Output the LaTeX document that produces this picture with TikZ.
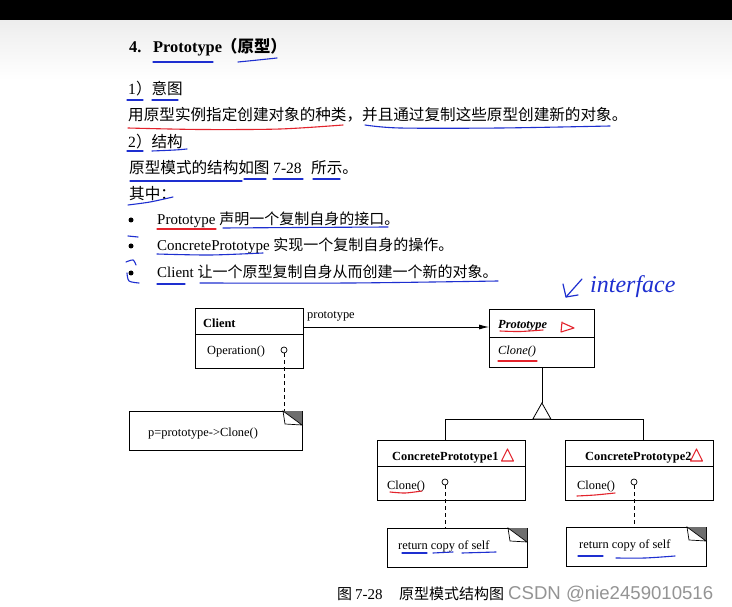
\documentclass[tikz,border=0pt]{standalone}
\usepackage{fontspec}
\setmainfont{Liberation Serif}
\setsansfont{Liberation Sans}
\newfontfamily\cjk{Noto Sans CJK SC}
\usetikzlibrary{arrows.meta,calc}
\definecolor{pen}{HTML}{1E2FD0}
\definecolor{redpen}{HTML}{E3232C}
\definecolor{folddark}{HTML}{6E6E6E}
\newcommand\zh[1]{{\cjk #1}}
\newcommand\fold[3]{% x2, y1 (top right corner)
  \fill[folddark] (#1-19,#2) -- (#1,#2) -- (#1,#2+14) -- cycle;
  \filldraw[fill=white, line width=0.7pt] (#1-19,#2) -- (#1-17,#2+13) -- (#1,#2+14) -- cycle;}
\begin{document}
\begin{tikzpicture}[x=1pt,y=-1pt,
  txt/.style={inner sep=0pt, anchor=base west, font=\fontsize{15.6}{17}\selectfont},
  btxt/.style={inner sep=0pt, anchor=base west, font=\fontsize{15}{17}\selectfont},
  dtxt/.style={inner sep=0pt, anchor=base west, font=\fontsize{12.4}{14}\selectfont},
  umlbox/.style={draw, line width=0.8pt, inner sep=0pt, anchor=north west},
  blueul/.style={pen, line width=1.1pt, line cap=round},
  redul/.style={redpen, line width=1.1pt, line cap=round, line join=round},
  dashline/.style={dash pattern=on 4pt off 3pt, line width=0.7pt},
  lolli/.style={draw, circle, inner sep=0pt, minimum size=6pt, line width=0.7pt, fill=white},
  bul/.style={circle, fill=black, inner sep=0pt, minimum size=5pt},
]
\useasboundingbox (0,0) rectangle (732,607);
\fill[white] (0,0) rectangle (732,607);
\shade[top color=black!7, bottom color=white] (0,20) rectangle (732,80);
\fill[black] (0,0) rectangle (732,20);

% ---------- text ----------
\node[txt, font=\fontsize{16.4}{18}\selectfont\bfseries] (t4) at (129,53) {4.};
\node[txt, font=\fontsize{16.4}{18}\selectfont\bfseries] (tproto) at (153,53) {Prototype};
\node[txt, font=\fontsize{16.4}{18}\selectfont\bfseries] (tparen) at (221,53) {\zh{\bfseries （原型）}};

\node[txt] (l1) at (128,95) {1\zh{）意图}};
\node[txt] (l2) at (128,121) {\zh{用原型实例指定创建对象的种类，并且通过复制这些原型创建新的对象。}};
\node[txt] (l3) at (128,148) {2\zh{）结构}};
\node[txt] (l4a) at (129,174) {\zh{原型模式的结构如图}};
\node[txt] (l4b) at (273,174) {7-28};
\node[txt] (l4c) at (311,174) {\zh{所示。}};
\node[txt] (l5) at (129,200) {\zh{其中：}};

\node[bul] (b1) at (131,220) {};
\node[bul] (b2) at (131,246) {};
\node[bul] (b3) at (131,273) {};
\node[btxt] (i1) at (157,225) {Prototype \zh{声明一个复制自身的接口。}};
\node[btxt] (i2) at (157,251) {ConcretePrototype \zh{实现一个复制自身的操作。}};
\node[btxt] (i3) at (157,278) {Client \zh{让一个原型复制自身从而创建一个新的对象。}};

% ---------- handwritten underlines ----------
\draw[blueul] (153,62) -- (213,62);
\draw[blueul] plot[smooth] coordinates {(238,62) (258,60) (277,58)};
\draw[blueul] (127,100) -- (143,100);
\draw[blueul] (152,100) -- (178,100);
\draw[redul] plot[smooth] coordinates {(128,128) (200,129.5) (280,129) (343,125)};
\draw[blueul] plot[smooth] coordinates {(365,125) (400,128) (500,128) (610,126)};
\draw[blueul] (127,151) -- (143,151);
\draw[blueul] plot[smooth] coordinates {(152,151) (175,150) (187,149)};
\draw[blueul] (130,181) -- (242,181);
\draw[blueul] (244,179) -- (266,179);
\draw[blueul] (273,179) -- (303,179);
\draw[blueul] (313,179) -- (340,179);
\draw[blueul] plot[smooth] coordinates {(128,205) (150,202) (173,197)};
\draw[redul] (157,229) -- (216,229);
\draw[blueul] plot[smooth] coordinates {(223,228) (300,227.5) (388,227)};
\draw[blueul] (128,236) -- (138,237);
\draw[blueul] plot[smooth] coordinates {(157,254) (210,255) (263,253)};
\draw[blueul] plot[smooth] coordinates {(126,262) (133,260) (136,265)};
\draw[blueul] plot[smooth] coordinates {(127,273) (129,281) (139,283)};
\draw[blueul] (157,284) -- (185,284);
\draw[blueul] plot[smooth] coordinates {(200,283) (350,283) (498,281)};

% interface annotation
\draw[pen, line width=1.2pt, line cap=round, line join=round] (582,279) -- (566,297);
\draw[pen, line width=1.2pt, line cap=round, line join=round] (563,284) -- (566,297) -- (578,295);
\node[inner sep=0pt, anchor=base west, text=pen, font=\fontsize{24}{26}\selectfont\itshape] (iface) at (590,292) {interface};

% ---------- UML diagram ----------
\node[umlbox, minimum width=108pt, minimum height=60pt] (client) at (195,308) {};
\draw[line width=0.8pt] ($(client.north west)+(0,26)$) -- ($(client.north east)+(0,26)$);
\node[dtxt, font=\fontsize{12.4}{14}\selectfont\bfseries] (clientname) at (203,327) {Client};
\node[dtxt] (op) at (207,354) {Operation()};
\node[lolli] (c0) at (284,350) {};

\node[umlbox, minimum width=173pt, minimum height=39pt] (n0) at (129,411) {};
\fold{302}{411}{}
\node[dtxt] (n0t) at (148,436) {p=prototype->Clone()};
\draw[dashline] (c0.south) -- (c0.south |- n0.north);

\node[umlbox, minimum width=105pt, minimum height=58pt] (proto) at (489,309) {};
\draw[line width=0.8pt] ($(proto.north west)+(0,28)$) -- ($(proto.north east)+(0,28)$);
\node[dtxt, font=\fontsize{12.4}{14}\selectfont\bfseries\itshape] (protoname) at (498,328) {Prototype};
\node[dtxt, font=\fontsize{12.4}{14}\selectfont\itshape] (protoclone) at (498,355) {Clone()};

\draw[line width=0.8pt, -{Latex[length=10pt,width=5pt]}] ($(client.north east)+(0,19)$) -- ($(proto.north west)+(0,18)$);
\node[dtxt] (lbl) at (307,319) {prototype};

\node[umlbox, minimum width=148pt, minimum height=60pt] (cp1) at (377,440) {};
\draw[line width=0.8pt] ($(cp1.north west)+(0,26)$) -- ($(cp1.north east)+(0,26)$);
\node[dtxt, font=\fontsize{12.4}{14}\selectfont\bfseries] (cp1name) at (392,460) {ConcretePrototype1};
\node[dtxt] (cp1clone) at (387,489) {Clone()};
\node[lolli] (c1) at (445,482) {};

\node[umlbox, minimum width=148pt, minimum height=60pt] (cp2) at (565,440) {};
\draw[line width=0.8pt] ($(cp2.north west)+(0,26)$) -- ($(cp2.north east)+(0,26)$);
\node[dtxt, font=\fontsize{12.4}{14}\selectfont\bfseries] (cp2name) at (585,460) {ConcretePrototype2};
\node[dtxt] (cp2clone) at (577,489) {Clone()};
\node[lolli] (c2) at (634,482) {};

% inheritance
\coordinate (apex) at (proto.south |- 0,403);
\coordinate (j1) at (445,419);
\coordinate (j2) at (643,419);
\draw[line width=0.8pt] (proto.south) -- (apex);
\draw[line width=0.8pt] (j1) -- (j2);
\draw[line width=0.8pt] (j1) -- (j1 |- cp1.north);
\draw[line width=0.8pt] (j2) -- (j2 |- cp2.north);
\filldraw[fill=white, line width=0.8pt] (apex) -- ($(apex)+(-9,16)$) -- ($(apex)+(9,16)$) -- cycle;

% notes
\node[umlbox, minimum width=140pt, minimum height=39pt] (n1) at (387,528) {};
\fold{527}{528}{}
\node[dtxt] (n1t) at (398,549) {return copy of self};
\draw[dashline] (c1.south) -- (c1.south |- n1.north);

\node[umlbox, minimum width=140pt, minimum height=39pt] (n2) at (566,527) {};
\fold{706}{527}{}
\node[dtxt] (n2t) at (579,548) {return copy of self};
\draw[dashline] (c2.south) -- (c2.south |- n2.north);

% red marks in diagram
\draw[redul] plot[smooth] coordinates {(500,331) (520,331.5) (543,330)};
\draw[redul] (562,322) -- (561,332) -- (574,328) -- (563,323);
\draw[redul] (498,361) -- (537,361);
\draw[redul] (507.5,449) -- (513.5,461) -- (501.5,461) -- cycle;
\draw[redul] (696.5,449) -- (702.5,461) -- (690.5,461) -- cycle;
\draw[redul] plot[smooth] coordinates {(390,492) (405,493) (422,491)};
\draw[redul] plot[smooth] coordinates {(577,496) (595,495) (615,493)};

% blue marks in notes
\draw[blueul] (402,553) -- (427,553);
\draw[blueul] (433,553) -- (453,552);
\draw[blueul] (462,553) -- (496,552);
\draw[blueul] (578,556) -- (603,556);
\draw[blueul] plot[smooth] coordinates {(616,558) (645,558) (675,556)};

% caption
\node[inner sep=0pt, anchor=base west, font=\fontsize{15}{17}\selectfont] (cap1) at (337,599) {\zh{图}};
\node[inner sep=0pt, anchor=base west, font=\fontsize{15}{17}\selectfont] (cap2) at (355,599) {7-28};
\node[inner sep=0pt, anchor=base west, font=\fontsize{15}{17}\selectfont] (cap3) at (399,599) {\zh{原型模式结构图}};
\node[inner sep=0pt, anchor=base west, text=black!42, font=\sffamily\fontsize{18.6}{20}\selectfont] (wm) at (508,599) {CSDN @nie2459010516};
\end{tikzpicture}
\end{document}
